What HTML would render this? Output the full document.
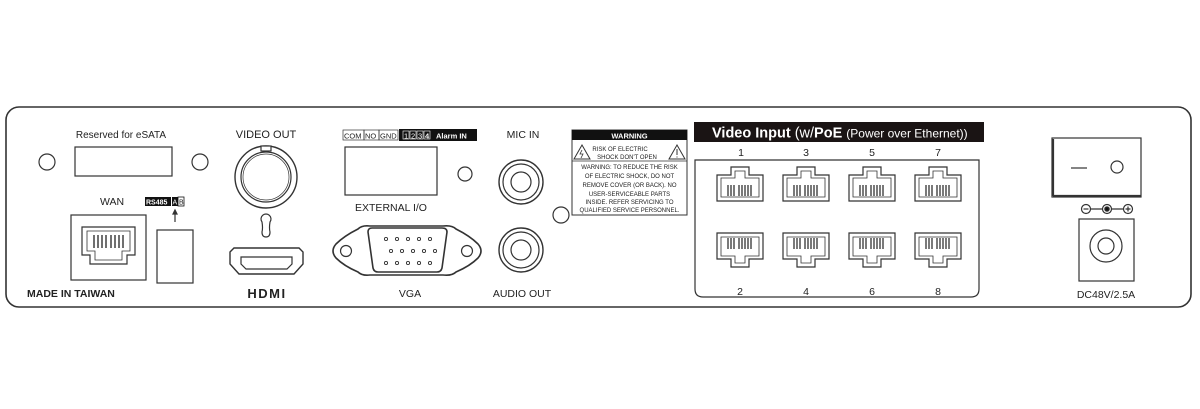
<!DOCTYPE html>
<html><head><meta charset="utf-8"><style>
html,body{margin:0;padding:0;background:#fff;width:1200px;height:409px;overflow:hidden}
svg{display:block}
text{font-family:"Liberation Sans",sans-serif;fill:#222}
</style></head><body>
<svg width="1200" height="409" viewBox="0 0 1200 409" xmlns="http://www.w3.org/2000/svg" fill="none" stroke="#333" stroke-width="1.2">
<defs>
<g id="rj">
  <path d="M0 8 H14 V0 H32 V8 H46 V34 H0 Z"/>
  <path d="M4 11 H18 V4 H28 V11 H42 V30 H4 Z" stroke-width="0.8"/>
  <g stroke-width="1.3"><path d="M11 18V29M14 18V29M17 18V29M22 18V29M25 18V29M28 18V29M31 18V29M34 18V29"/></g>
</g>
</defs>
<rect x="6" y="107" width="1185" height="200" rx="13" stroke-width="1.6"/>

<text x="121" y="138" font-size="10" text-anchor="middle" stroke="none">Reserved for eSATA</text>
<rect x="75" y="147" width="97" height="29"/>
<circle cx="47" cy="162" r="8"/>
<circle cx="200" cy="162" r="8"/>

<text x="112" y="205" font-size="10.5" text-anchor="middle" stroke="none">WAN</text>
<rect x="71" y="215" width="75" height="65"/>
<g transform="translate(82,227)">
  <path d="M0 0 H53 V28 H45 V37 H8 V28 H0 Z"/>
  <path d="M5 4 H48 V24 H40 V33 H13 V24 H5 Z" stroke-width="0.8"/>
  <g stroke-width="1.4"><path d="M12 8V21M16 8V21M20 8V21M24 8V21M29 8V21M33 8V21M37 8V21M41 8V21"/></g>
</g>
<rect x="145" y="197" width="26" height="9" fill="#111" stroke="none"/>
<text x="146" y="204.5" font-size="7" font-weight="bold" stroke="none" style="fill:#fff">RS485</text>
<rect x="172" y="197" width="6" height="9" fill="#111" stroke="none"/>
<rect x="178" y="197" width="6" height="9" fill="#fff" stroke="#111" stroke-width="0.8"/>
<text x="172.5" y="204.5" font-size="7" stroke="none" style="fill:#fff">A</text>
<text x="179" y="204.5" font-size="7" stroke="none">B</text>
<path d="M175 222 V212"/><path d="M173 214 L175 210 L177 214 Z" fill="#333"/>
<rect x="157" y="230" width="36" height="53"/>
<text x="27" y="297" font-size="10.5" font-weight="bold" stroke="none">MADE IN TAIWAN</text>

<text x="266" y="138" font-size="11" text-anchor="middle" stroke="none">VIDEO OUT</text>
<circle cx="266" cy="177" r="31" stroke-width="1.4"/>
<circle cx="266" cy="177" r="25"/>
<circle cx="266" cy="177" r="23" stroke-width="0.7"/>
<rect x="261" y="146" width="10" height="5" fill="#fff"/>
<path d="M262 222 a5 5 0 1 1 8 0 q-1 6 0 10 q0 5 -4 5 q-4 0 -4 -5 q1 -4 0 -10 Z"/>
<path d="M230 252 L234 248 H299 L303 252 V264 L294 274 H239 L230 264 Z" stroke-width="1.4"/>
<path d="M241 257 H292 V264 L287 269 H246 L241 264 Z" stroke-width="1.2"/>
<text x="267" y="298" font-size="13" font-weight="bold" text-anchor="middle" stroke="none" letter-spacing="1.5">HDMI</text>

<g font-size="7.5" stroke="none">
  <rect x="343" y="130" width="21" height="10" stroke="#333" stroke-width="0.7"/>
  <text x="344" y="138.5" stroke="none">COM</text>
  <rect x="364" y="130" width="15" height="10" stroke="#333" stroke-width="0.7"/>
  <text x="365" y="138.5" stroke="none">NO</text>
  <rect x="379" y="130" width="19" height="10" stroke="#333" stroke-width="0.7"/>
  <text x="380" y="138.5" stroke="none">GND</text>
  <rect x="399" y="129" width="78" height="12" fill="#111"/>
  <rect x="403" y="131" width="6" height="8" stroke="#fff" stroke-width="0.6"/>
  <rect x="410" y="131" width="6" height="8" stroke="#fff" stroke-width="0.6"/>
  <rect x="417" y="131" width="6" height="8" stroke="#fff" stroke-width="0.6"/>
  <rect x="424" y="131" width="6" height="8" stroke="#fff" stroke-width="0.6"/>
  <text x="404" y="138.5" style="fill:#fff">1</text>
  <text x="411" y="138.5" style="fill:#fff">2</text>
  <text x="418" y="138.5" style="fill:#fff">3</text>
  <text x="425" y="138.5" style="fill:#fff" font-weight="bold">4</text>
  <text x="436" y="138.5" style="fill:#fff" font-weight="bold">Alarm IN</text>
</g>
<rect x="345" y="147" width="92" height="48"/>
<circle cx="465" cy="174" r="7"/>
<text x="391" y="211" font-size="10.5" text-anchor="middle" stroke="none">EXTERNAL I/O</text>

<path d="M358 229 Q362 225 370 226 H443 Q452 225 456 229 Q470 236 478 244 Q484 251 478 258 Q470 266 456 272 Q452 276 443 275 H370 Q362 276 358 272 Q344 266 336 258 Q330 251 336 244 Q344 236 358 229 Z" stroke-width="1.6"/>
<path d="M368 232 Q368 228 372 228 H442 Q447 228 447 232 L442 268 Q441 272 437 272 H378 Q374 272 373 268 Z" stroke-width="1.6"/>
<circle cx="346" cy="251" r="5.5"/><circle cx="467" cy="251" r="5.5"/>
<g stroke-width="0.9">
  <circle cx="386" cy="239" r="1.6"/><circle cx="397" cy="239" r="1.6"/><circle cx="408" cy="239" r="1.6"/><circle cx="419" cy="239" r="1.6"/><circle cx="430" cy="239" r="1.6"/>
  <circle cx="391" cy="251" r="1.6"/><circle cx="402" cy="251" r="1.6"/><circle cx="413" cy="251" r="1.6"/><circle cx="424" cy="251" r="1.6"/><circle cx="435" cy="251" r="1.6"/>
  <circle cx="386" cy="263" r="1.6"/><circle cx="397" cy="263" r="1.6"/><circle cx="408" cy="263" r="1.6"/><circle cx="419" cy="263" r="1.6"/><circle cx="430" cy="263" r="1.6"/>
</g>
<text x="410" y="297" font-size="10.5" text-anchor="middle" stroke="none">VGA</text>

<text x="523" y="138" font-size="10.5" text-anchor="middle" stroke="none">MIC IN</text>
<circle cx="521" cy="182" r="22" stroke-width="1.4"/><circle cx="521" cy="182" r="18"/><circle cx="521" cy="182" r="10"/>
<circle cx="521" cy="250" r="22" stroke-width="1.4"/><circle cx="521" cy="250" r="18"/><circle cx="521" cy="250" r="10"/>
<circle cx="561" cy="215" r="8"/>
<text x="522" y="297" font-size="10.5" text-anchor="middle" stroke="none">AUDIO OUT</text>

<rect x="572" y="130" width="115" height="85" stroke-width="1"/>
<rect x="572" y="130" width="115" height="10" fill="#111" stroke="none"/>
<text x="629.5" y="138.5" font-size="7.5" font-weight="bold" text-anchor="middle" stroke="none" style="fill:#fff">WARNING</text>
<path d="M574 159 L582 145 L590 159 Z" stroke-width="1"/>
<path d="M669 159 L677 145 L685 159 Z" stroke-width="1"/>
<path d="M582 150 l-2 4 h3 l-2 4" stroke-width="0.8"/>
<path d="M677 149 V155 M677 156.5 V157.5" stroke-width="1"/>
<line x1="572" y1="161" x2="687" y2="161" stroke-width="0.8"/>
<g font-size="6" text-anchor="middle" stroke="none">
  <text x="620" y="151">RISK OF ELECTRIC</text>
  <text x="627" y="159">SHOCK DON'T OPEN</text>
  <text x="629.5" y="169">WARNING: TO REDUCE THE RISK</text>
  <text x="629.5" y="178">OF ELECTRIC SHOCK, DO NOT</text>
  <text x="629.5" y="187">REMOVE COVER (OR BACK). NO</text>
  <text x="629.5" y="196">USER-SERVICEABLE PARTS</text>
  <text x="629.5" y="204">INSIDE. REFER SERVICING TO</text>
  <text x="629.5" y="212">QUALIFIED SERVICE PERSONNEL.</text>
</g>

<rect x="694" y="122" width="290" height="20" fill="#1a1414" stroke="none"/>
<text x="712" y="137.5" font-size="14.5" stroke="none" style="fill:#fff"><tspan font-weight="bold">Video Input</tspan> (w/<tspan font-weight="bold">PoE</tspan> <tspan font-size="12">(Power over Ethernet))</tspan></text>
<path d="M695 160 H979 V289 Q979 297 971 297 H703 Q695 297 695 289 Z"/>
<g font-size="10.5" text-anchor="middle" stroke="none">
  <text x="741" y="156">1</text><text x="806" y="156">3</text><text x="872" y="156">5</text><text x="938" y="156">7</text>
  <text x="740" y="295">2</text><text x="806" y="295">4</text><text x="872" y="295">6</text><text x="938" y="295">8</text>
</g>
<use href="#rj" x="717" y="167"/><use href="#rj" x="783" y="167"/><use href="#rj" x="849" y="167"/><use href="#rj" x="915" y="167"/>
<g transform="translate(0,500) scale(1,-1)">
<use href="#rj" x="717" y="233"/><use href="#rj" x="783" y="233"/><use href="#rj" x="849" y="233"/><use href="#rj" x="915" y="233"/>
</g>

<rect x="1052" y="138" width="89" height="59" stroke-width="1.2"/>
<path d="M1053 196 H1141 M1053 139 V196" stroke-width="2.2"/>
<line x1="1071" y1="168" x2="1087" y2="168"/>
<circle cx="1117" cy="167" r="6"/>
<circle cx="1086" cy="209" r="4.5"/><path d="M1083.5 209 h5" />
<circle cx="1107" cy="209" r="4.5"/><circle cx="1107" cy="209" r="2.2" fill="#111"/>
<circle cx="1128" cy="209" r="4.5"/><path d="M1125.5 209 h5 M1128 206.5 v5"/>
<path d="M1090.5 209 H1102.5 M1111.5 209 H1123.5"/>
<rect x="1079" y="219" width="55" height="62"/>
<circle cx="1106" cy="246" r="16"/><circle cx="1106" cy="246" r="8"/>
<text x="1106" y="298" font-size="10.5" text-anchor="middle" stroke="none">DC48V/2.5A</text>
</svg>
</body></html>
